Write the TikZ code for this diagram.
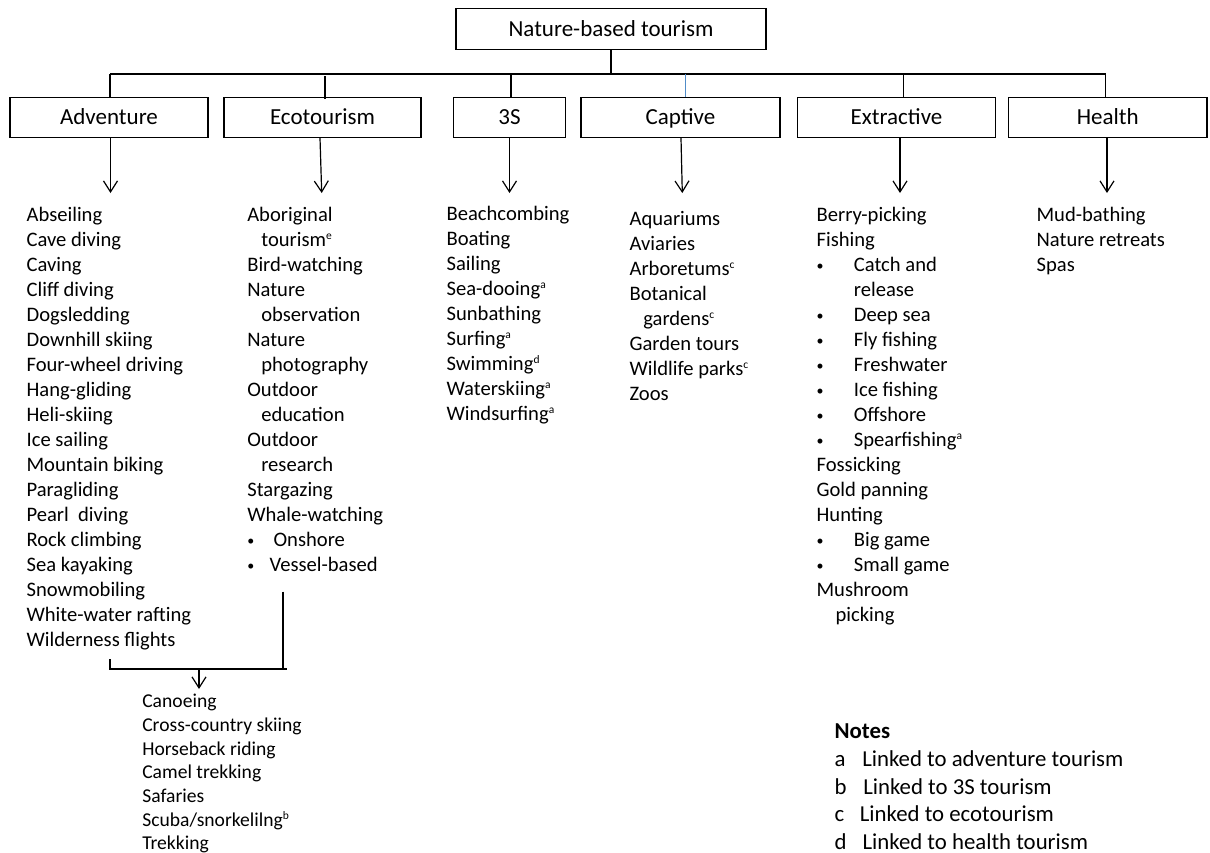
\documentclass[tikz,border=0pt]{standalone}
\usepackage{fontspec}
\setmainfont{Carlito}
\usetikzlibrary{arrows.meta}
\newcommand{\supx}[1]{\raisebox{7pt}{\fontsize{11.5pt}{11.5pt}\selectfont #1}}
\newcommand{\bul}[1]{\makebox[#1][l]{\raisebox{0.6pt}{\fontsize{14pt}{14pt}\selectfont •}}}
\begin{document}
\begin{tikzpicture}[x=1pt,y=-1pt,
  line width=1.2pt,
  catbox/.style={draw, inner sep=0pt, minimum height=39.6pt, text height=16pt, text depth=1.4pt, font=\fontsize{23pt}{27pt}\selectfont},
  itemlist/.style={anchor=north west, inner sep=0pt, align=left, font=\fontsize{20.6pt}{25pt}\selectfont},
  lowlist/.style={anchor=north west, inner sep=0pt, align=left, font=\fontsize{19.6pt}{23.7pt}\selectfont},
  notelist/.style={anchor=north west, inner sep=0pt, align=left, font=\fontsize{22.8pt}{27.7pt}\selectfont},
  arr/.style={-{Straight Barb[length=11pt,width=14pt,line width=1.2pt]}}
]
\useasboundingbox (0,0) rectangle (1210,852);
\fill[white] (0,0) rectangle (1210,852);

% top box
\node[catbox, minimum width=310pt, minimum height=41pt] (top) at (611,28.8) {Nature-based tourism};

% category boxes
\node[catbox, minimum width=198pt] (adv) at (109,117.5) {Adventure};
\node[catbox, minimum width=197pt] (eco) at (322.5,117.5) {Ecotourism};
\node[catbox, minimum width=112pt] (tss) at (509.5,117.5) {3S};
\node[catbox, minimum width=199pt] (cap) at (680.5,117.5) {Captive};
\node[catbox, minimum width=198pt] (ext) at (896.5,117.5) {Extractive};
\node[catbox, minimum width=198.5pt] (hea) at (1107.75,117.5) {Health};

% bus
\coordinate (s1) at (110,74);
\coordinate (s2) at (325,74);
\coordinate (s3) at (511,74);
\coordinate (s4) at (685.6,74);
\coordinate (s5) at (903.5,74);
\coordinate (s6) at (1105.8,74);
\draw (top.south) -- (top.south |- s1);
\draw (s1) -- (s6);
\draw (s1) -- (s1 |- adv.north);
\draw ([yshift=-2pt]s2) -- ([yshift=-2pt]s2 |- eco.north);
\draw (s3) -- (s3 |- tss.north);
\draw[color={rgb,255:red,80;green,140;blue,200}] (s4) -- (s4 |- cap.north);
\draw (s5) -- (s5 |- ext.north);
\draw (s6) -- (s6 |- hea.north);

% arrow tips
\coordinate (t1) at (110.5,193);
\coordinate (t2) at (321.7,193);
\coordinate (t3) at (509.5,193);
\coordinate (t4) at (682.3,193);
\coordinate (t5) at (900,193);
\coordinate (t6) at (1107,193);
\draw[arr] (t1 |- adv.south) -- (t1);
\draw[arr] ([xshift=-2.5pt]eco.south) -- (t2);
\draw[arr] (t3 |- tss.south) -- (t3);
\draw[arr] ([xshift=0.5pt]cap.south) -- (t4);
\draw[arr] (t5 |- ext.south) -- (t5);
\draw[arr] (t6 |- hea.south) -- (t6);

% lists
\node[itemlist] (ladv) at (26,203.2) {\strut Abseiling\\Cave diving\\Caving\\Cliff diving\\Dogsledding\\Downhill skiing\\Four-wheel driving\\Hang-gliding\\Heli-skiing\\Ice sailing\\Mountain biking\\Paragliding\\Pearl\ \ diving\\Rock climbing\\Sea kayaking\\Snowmobiling\\White-water rafting\\Wilderness flights};

\node[itemlist] (leco) at (246.7,203.2) {\strut Aboriginal\\\hspace*{14pt}tourism\supx{e}\\Bird-watching\\Nature\\\hspace*{14pt}observation\\Nature\\\hspace*{14pt}photography\\Outdoor\\\hspace*{14pt}education\\Outdoor\\\hspace*{14pt}research\\Stargazing\\Whale-watching\\\bul{26.3pt}Onshore\\\bul{22.3pt}Vessel-based};

\node[itemlist] (ltss) at (446,202) {\strut Beachcombing\\Boating\\Sailing\\Sea-dooing\supx{a}\\Sunbathing\\Surfing\supx{a}\\Swimming\supx{d}\\Waterskiing\supx{a}\\Windsurfing\supx{a}};

\node[itemlist] (lcap) at (629,207.2) {\strut Aquariums\\Aviaries\\Arboretums\supx{c}\\Botanical\\\hspace*{13.7pt}gardens\supx{c}\\Garden tours\\Wildlife parks\supx{c}\\Zoos};

\node[itemlist] (lext) at (816,203) {\strut Berry-picking\\Fishing\\\bul{37.3pt}Catch and\\\hspace*{37.3pt}release\\\bul{37.3pt}Deep sea\\\bul{37.3pt}Fly fishing\\\bul{37.3pt}Freshwater\\\bul{37.3pt}Ice fishing\\\bul{37.3pt}Offshore\\\bul{37.3pt}Spearfishing\supx{a}\\Fossicking\\Gold panning\\Hunting\\\bul{37.3pt}Big game\\\bul{37.3pt}Small game\\Mushroom\\\hspace*{19pt}picking};

\node[itemlist] (lhea) at (1036,203) {\strut Mud-bathing\\Nature retreats\\Spas};

% bracket joining adventure and ecotourism
\coordinate (bl) at (110,659);
\coordinate (br) at (283,591.7);
\coordinate (bj) at (110,669);
\coordinate (be) at (287,669);
\coordinate (bm) at (199,669);
\coordinate (bt) at (199,689);
\draw (bl) -- (bj) -- (be);
\draw (br) -- (br |- be);
\draw[arr] (bm) -- (bt);

\node[lowlist] (llow) at (141.7,690.4) {\strut Canoeing\\Cross-country skiing\\Horseback riding\\Camel trekking\\Safaries\\Scuba/snorkelilng\supx{b}\\Trekking};

% notes
\node[notelist] (notes) at (834,718.6) {\strut\textbf{Notes}\\\makebox[27.7pt][l]{a}Linked to adventure tourism\\\makebox[28.7pt][l]{b}Linked to 3S tourism\\\makebox[25.3pt][l]{c}Linked to ecotourism\\\makebox[28pt][l]{d}Linked to health tourism};
\end{tikzpicture}
\end{document}
